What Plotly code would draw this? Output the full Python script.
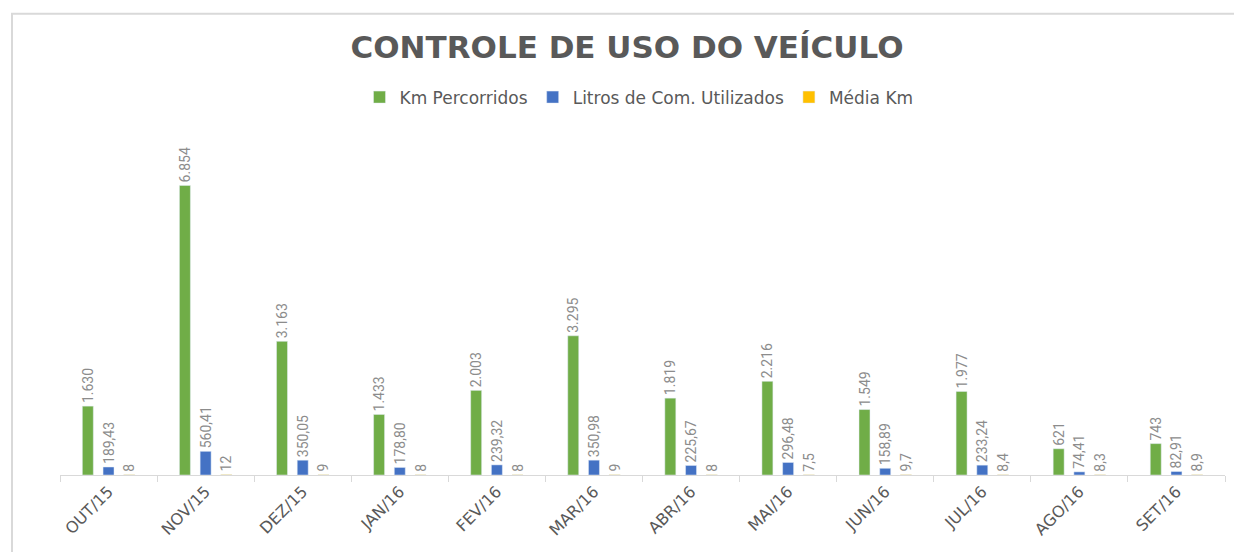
import plotly.graph_objects as go

categories = ["OUT/15", "NOV/15", "DEZ/15", "JAN/16", "FEV/16", "MAR/16",
              "ABR/16", "MAI/16", "JUN/16", "JUL/16", "AGO/16", "SET/16"]
km_percorridos = [1630, 6854, 3163, 1433, 2003, 3295, 1819, 2216, 1549, 1977, 621, 743]
litros_utilizados = [189.43, 560.41, 350.05, 178.80, 239.32, 350.98, 225.67, 296.48,
                     158.89, 233.24, 74.41, 82.91]
media_km = [8, 12, 9, 8, 8, 9, 8, 7.5, 9.7, 8.4, 8.3, 8.9]

media_text = [f"{v:g}".replace(".", ",") for v in media_km]

label_font = dict(family="Roboto, Liberation Sans, sans-serif", size=14, color="#8c8c8c")

fig = go.Figure()
fig.add_trace(go.Bar(
    name="Km Percorridos", x=categories, y=km_percorridos,
    marker_color="#70AD47", texttemplate="%{y:,.0f}", textposition="outside",
    textangle=-90, textfont=label_font, cliponaxis=False, constraintext="none"))
fig.add_trace(go.Bar(
    name="Litros de Com. Utilizados", x=categories, y=litros_utilizados,
    marker_color="#4472C4", texttemplate="%{y:,.2f}", textposition="outside",
    textangle=-90, textfont=label_font, cliponaxis=False, constraintext="none"))
fig.add_trace(go.Bar(
    name="Média Km", x=categories, y=media_km,
    marker_color="#FFC000", text=media_text, texttemplate="%{text}",
    textposition="outside", textangle=-90, textfont=label_font, cliponaxis=False,
    constraintext="none"))

# chart border (light grey frame)
fig.add_shape(type="rect", xref="paper", yref="paper",
              x0=-48 / 1165, x1=1.04, y0=-0.30, y1=462 / 338.5,
              line=dict(color="#d9d9d9", width=2), fillcolor="rgba(0,0,0,0)",
              layer="below")

fig.update_layout(
    width=1242, height=552,
    margin=dict(l=52, r=25, t=128.5, b=85),
    paper_bgcolor="white", plot_bgcolor="white",
    separators=",.",
    barmode="group", bargap=0.36, bargroupgap=0.47,
    title=dict(text="<b>CONTROLE DE USO DO VEÍCULO</b>",
               x=(627 - 8) / 1242, xanchor="center", y=1 - 39 / 552, yanchor="middle",
               font=dict(family="DejaVu Sans, Open Sans, sans-serif", size=31, color="#595959")),
    legend=dict(orientation="h", x=(639 - 60) / 1165, xanchor="center", y=(475 - 97) / 338.5,
                yanchor="middle",
                font=dict(family="DejaVu Sans, sans-serif", size=17, color="#595959"),
                itemwidth=30, traceorder="normal"),
    showlegend=True,
    xaxis=dict(showline=True, linecolor="#d9d9d9", linewidth=1,
               ticks="outside", tickson="boundaries", ticklen=6, tickcolor="#d9d9d9",
               tickangle=-45,
               tickfont=dict(family="DejaVu Sans, sans-serif", size=16, color="#595959"),
               showgrid=False),
    yaxis=dict(range=[0, 8000], visible=False, showgrid=False, zeroline=False),
)

fig.write_html("out.html")
